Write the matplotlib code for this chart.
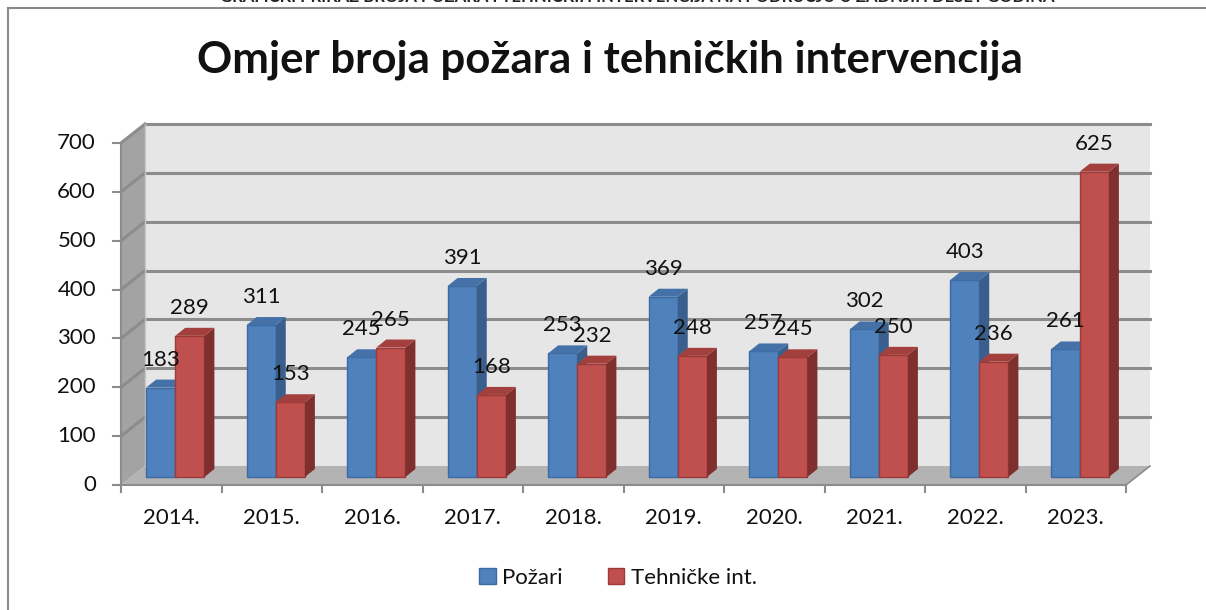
import matplotlib
matplotlib.use('Agg')
import matplotlib.pyplot as plt
from matplotlib.patches import Polygon, Rectangle
from matplotlib.lines import Line2D

plt.rcParams['font.family'] = ['Lato', 'DejaVu Sans']

years = ['2014.', '2015.', '2016.', '2017.', '2018.', '2019.', '2020.', '2021.', '2022.', '2023.']
pozari = [183, 311, 245, 391, 253, 369, 257, 302, 403, 261]
tehnicke = [289, 153, 265, 168, 232, 248, 245, 250, 236, 625]
y_ticks = [0, 100, 200, 300, 400, 500, 600, 700]

W, H = 1206, 610
fig = plt.figure(figsize=(W / 100, H / 100), dpi=100)
ax = fig.add_axes([0, 0, 1, 1])

# pixel -> data scale for the front plane of the 3d box
x0_px, cat_px = 121, 100.5
y0_px, sy = 485, 342 / 700
ax.set_xlim(-0.5 - x0_px / cat_px, -0.5 + (W - x0_px) / cat_px)
ax.set_ylim(-(H - y0_px) / sy, y0_px / sy)
ax.axis('off')

def px_x(p):
    return p / cat_px

def px_y(p):
    return p / sy

n = len(years)
ymax = y_ticks[-1]
dx, dy = px_x(24), px_y(19)          # depth of the box
left, right = -0.5, n - 0.5

wall_c, side_c, floor_c, grid_c = '#e6e6e6', '#a3a3a3', '#b3b3b3', '#8c8c8c'

# back wall, side wall, floor
ax.add_patch(Rectangle((left + dx, dy), right - left, ymax, fc=wall_c, ec='none', zorder=0))
ax.add_patch(Polygon([(left, 0), (left, ymax), (left + dx, ymax + dy), (left + dx, dy)],
                     fc=side_c, ec='none', zorder=0.5))
ax.add_patch(Polygon([(left, 0), (right, 0), (right + dx, dy), (left + dx, dy)],
                     fc=floor_c, ec='none', zorder=0.5))

for v in y_ticks[1:]:
    ax.plot([left + dx, right + dx], [v + dy, v + dy], color=grid_c, lw=2.2, zorder=1)
    ax.plot([left, left + dx], [v, v + dy], color=grid_c, lw=2.2, zorder=1)
ax.plot([left + dx, left + dx], [dy, ymax + dy], color='#c8c8c8', lw=1, zorder=1)

# axes lines and ticks
ax.plot([left, left], [0, ymax], color=grid_c, lw=1.5, zorder=1.5)
ax.plot([left, right], [0, 0], color=grid_c, lw=1.5, zorder=1.5)
ax.plot([right, right + dx], [0, dy], color=grid_c, lw=1.2, zorder=1.5)
for v in y_ticks:
    ax.plot([left - px_x(8), left], [v, v], color=grid_c, lw=1.5)
    ax.text(left - px_x(25), v, str(v), ha='right', va='center', fontsize=16, color='#111111')
for i in range(n + 1):
    ax.plot([left + i, left + i], [0, -px_y(7)], color=grid_c, lw=1.5)
for i, yr in enumerate(years):
    ax.text(i, -px_y(33), yr, ha='center', va='center', fontsize=16, color='#111111')

# 3d bars
bw = 0.29
ox, oy = px_x(4), px_y(8)            # bars stand a bit behind the front edge
bdx, bdy = px_x(10), px_y(8)         # bar depth
series = [
    ('Požari', pozari, -bw / 2, '#4f81bd', '#3b5f8c', '#4471a8', '#3c6ba3', 3),
    ('Tehničke int.', tehnicke, bw / 2, '#c0504d', '#7f302e', '#a3403d', '#9b3a37', 5),
]
handles = []
for name, vals, shift, front, side, top, edge, z in series:
    xs = [i + shift + ox for i in range(n)]
    bars = ax.bar(xs, vals, width=bw, bottom=oy, color=front, edgecolor=edge,
                  linewidth=1, zorder=z, label=name)
    handles.append(bars)
    for x, v in zip(xs, vals):
        l, r = x - bw / 2, x + bw / 2
        t = oy + v
        ax.add_patch(Polygon([(r, oy), (r, t), (r + bdx, t + bdy), (r + bdx, oy + bdy)],
                             fc=side, ec='none', zorder=z + 0.5))
        ax.add_patch(Polygon([(l, t), (r, t), (r + bdx, t + bdy), (l + bdx, t + bdy)],
                             fc=top, ec='none', zorder=z + 0.5))
        ax.annotate(str(v), (x, t), xytext=(0, 28), textcoords='offset pixels',
                    ha='center', va='center', fontsize=16, color='#111111', zorder=10)

# title, legend, frame
fig.text(610 / W, 1 - 60 / H, 'Omjer broja požara i tehničkih intervencija',
         ha='center', va='center', fontsize=31.5, fontweight='bold', color='#111111')
fig.text(637 / W, 1 + 2.5 / H,
         'GRAFIČKI PRIKAZ BROJA POŽARA I TEHNIČKIH INTERVENCIJA NA PODRUČJU U ZADNJIH DESET GODINA',
         ha='center', va='center', fontsize=12, fontweight='bold', color='#222222')
leg = fig.legend(handles=handles, loc='center', bbox_to_anchor=(618 / W, 1 - 578 / H),
                 ncol=2, frameon=False, fontsize=16, handlelength=0.75, handleheight=0.75,
                 handletextpad=0.3, columnspacing=2.0)
for t in leg.get_texts():
    t.set_color('#111111')

fig.add_artist(Line2D([8 / W, 8 / W], [0, 1 - 8 / H], color='#8a8a8a', lw=1.5))
fig.add_artist(Line2D([8 / W, 1], [1 - 8 / H, 1 - 8 / H], color='#8a8a8a', lw=1.5))

fig.savefig('out.png', dpi=100)
